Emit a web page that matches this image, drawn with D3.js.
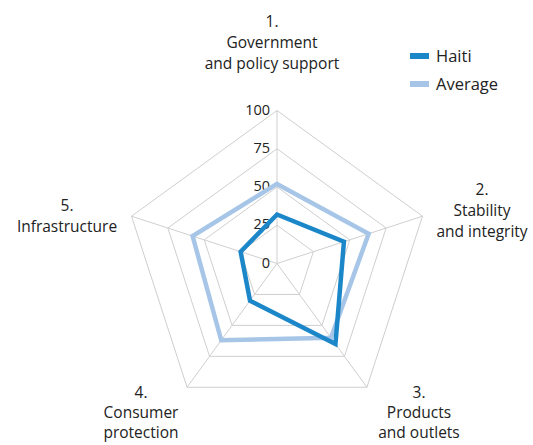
<!DOCTYPE html>
<html>
<head>
<meta charset="utf-8">
<script src="https://cdnjs.cloudflare.com/ajax/libs/d3/7.8.5/d3.min.js"></script>
<style>
  body { margin: 0; background: #fff; }
  svg { display: block; font-family: "Open Sans", "Noto Sans", sans-serif; }
</style>
</head>
<body>
<svg id="chart" width="533" height="445"></svg>
<script>
// Pillar names, one label line per array entry
const categories = [
  ["1.", "Government", "and policy support"],
  ["2.", "Stability", "and integrity"],
  ["3.", "Products", "and outlets"],
  ["4.", "Consumer", "protection"],
  ["5.", "Infrastructure"]
];
const haiti = [32, 46, 65, 30, 25];
const average = [52, 63, 60, 62, 58];
const ticks = [0, 25, 50, 75, 100];
const seriesNames = ["Haiti", "Average"];
const seriesColors = ["#1b87c9", "#a7c6e7"];

const svg = d3.select("#chart");
const cx = 277, cy = 263.5, R = 153;
const r = d3.scaleLinear().domain([0, 100]).range([0, R]);
const angle = i => (i * 2 * Math.PI) / categories.length;
const pt = (i, v) => [cx + r(v) * Math.sin(angle(i)), cy - r(v) * Math.cos(angle(i))];

// Grid rings
const grid = svg.append("g");
ticks.filter(t => t > 0).forEach(t => {
  grid.append("polygon")
    .attr("points", categories.map((c, i) => pt(i, t).join(",")).join(" "))
    .attr("fill", "none").attr("stroke", "#cfcfcf").attr("stroke-width", 1);
});
// Spokes
categories.forEach((c, i) => {
  const [x, y] = pt(i, 100);
  grid.append("line").attr("x1", cx).attr("y1", cy).attr("x2", x).attr("y2", y)
    .attr("stroke", "#cfcfcf").attr("stroke-width", 1);
});

// Tick labels along the first spoke
svg.append("g").selectAll("text").data(ticks).join("text")
  .attr("x", cx - 7).attr("y", d => cy - r(d) + 4)
  .attr("text-anchor", "end").attr("font-size", 14.5).attr("fill", "#222")
  .text(d => d);

// Series polygons
const line = d3.line().curve(d3.curveLinearClosed);
[average, haiti].forEach((vals, k) => {
  const color = k === 0 ? seriesColors[1] : seriesColors[0];
  svg.append("path")
    .attr("d", line(vals.map((v, i) => pt(i, v))))
    .attr("fill", "none").attr("stroke", color)
    .attr("stroke-width", 4.5).attr("stroke-linejoin", "miter");
});

// Axis labels
const labelPos = [
  { x: 272, y: 27, dy: 21 },
  { x: 482, y: 195, dy: 21 },
  { x: 419, y: 398, dy: 20 },
  { x: 141, y: 398, dy: 20 },
  { x: 67, y: 211, dy: 21 }
];
categories.forEach((lines, i) => {
  const t = svg.append("text")
    .attr("x", labelPos[i].x).attr("y", labelPos[i].y)
    .attr("text-anchor", "middle").attr("font-size", 15.5).attr("fill", "#222");
  lines.forEach((s, j) => {
    t.append("tspan").attr("x", labelPos[i].x).attr("dy", j === 0 ? 0 : labelPos[i].dy).text(s);
  });
});

// Legend
const legend = svg.append("g");
seriesNames.forEach((name, i) => {
  const y = 56 + i * 28;
  legend.append("rect").attr("x", 410).attr("y", y - 3).attr("width", 19).attr("height", 6)
    .attr("fill", seriesColors[i]);
  legend.append("text").attr("x", 436).attr("y", y + 6)
    .attr("font-size", 16.5).attr("fill", "#222").text(name);
});
</script>
</body>
</html>
